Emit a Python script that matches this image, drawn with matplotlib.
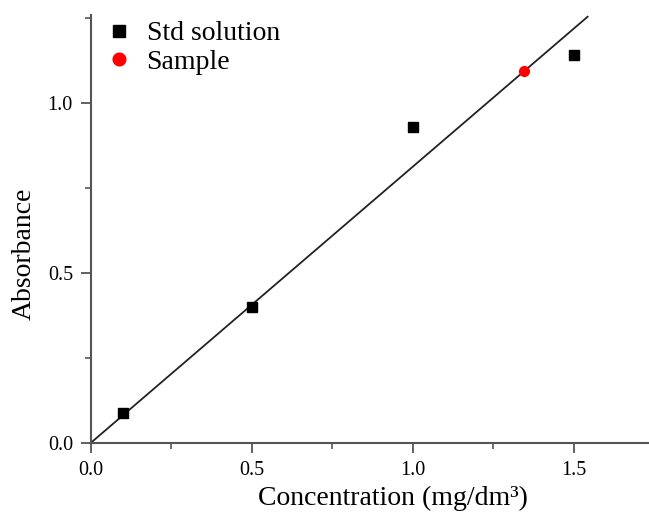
import numpy as np
import matplotlib
matplotlib.use("Agg")
from matplotlib import pyplot as plt
from matplotlib.ticker import MultipleLocator

# standards
std_conc = [0.1, 0.5, 1.0, 1.5]
std_abs = [0.087, 0.40, 0.929, 1.140]
# sample
sample_conc = [1.345]
sample_abs = [1.092]
# calibration line through origin
slope = 0.812
line_x = np.array([0.0, 1.543])

plt.rcParams['font.family'] = ['Liberation Serif', 'DejaVu Serif']

fig = plt.figure(figsize=(6.49, 5.15), dpi=100)
ax = fig.add_axes([0.1402, 0.1404, 0.858, 0.8305])

ax.plot(line_x, slope * line_x, color='#222222', lw=1.3, zorder=2)
ax.plot(std_conc, std_abs, 's', color='black', ms=6.5, ls='none',
        label='Std solution', zorder=3)
ax.plot(sample_conc, sample_abs, 'o', color='#ff0000', ms=7, ls='none',
        label='Sample', zorder=3)

ax.set_xlim(0, 1.73)
ax.set_ylim(0, 1.258)
ax.xaxis.set_minor_locator(MultipleLocator(0.25))
ax.yaxis.set_minor_locator(MultipleLocator(0.25))
ax.set_xticks([0.0, 0.5, 1.0, 1.5])
ax.set_xticklabels(['0.0', '0.5', '1.0', '1.5'])
ax.set_yticks([0.0, 0.5, 1.0])
ax.set_yticklabels(['0.0', '0.5', '1.0'])

for s in ['top', 'right']:
    ax.spines[s].set_visible(False)
for s in ['left', 'bottom']:
    ax.spines[s].set_color('#555555')
    ax.spines[s].set_linewidth(1.5)
ax.tick_params(which='major', direction='out', length=7, width=1.3,
               color='#555555', labelsize=14.5, pad=6)
ax.tick_params(which='minor', direction='out', length=4, width=1.2,
               color='#555555')

ax.set_xlabel('Concentration (mg/dm\u00b3)', fontsize=20)
ax.xaxis.set_label_coords(0.542, -0.102)
ax.set_ylabel('Absorbance', fontsize=20)
ax.yaxis.set_label_coords(-0.097, 0.441)

ax.legend(loc='upper left', frameon=False, fontsize=20, markerscale=1.3,
          handlelength=0.8, handletextpad=0.6, labelspacing=0.12,
          borderaxespad=0.2, bbox_to_anchor=(0.0, 1.025))

fig.savefig('out.png', dpi=100)
